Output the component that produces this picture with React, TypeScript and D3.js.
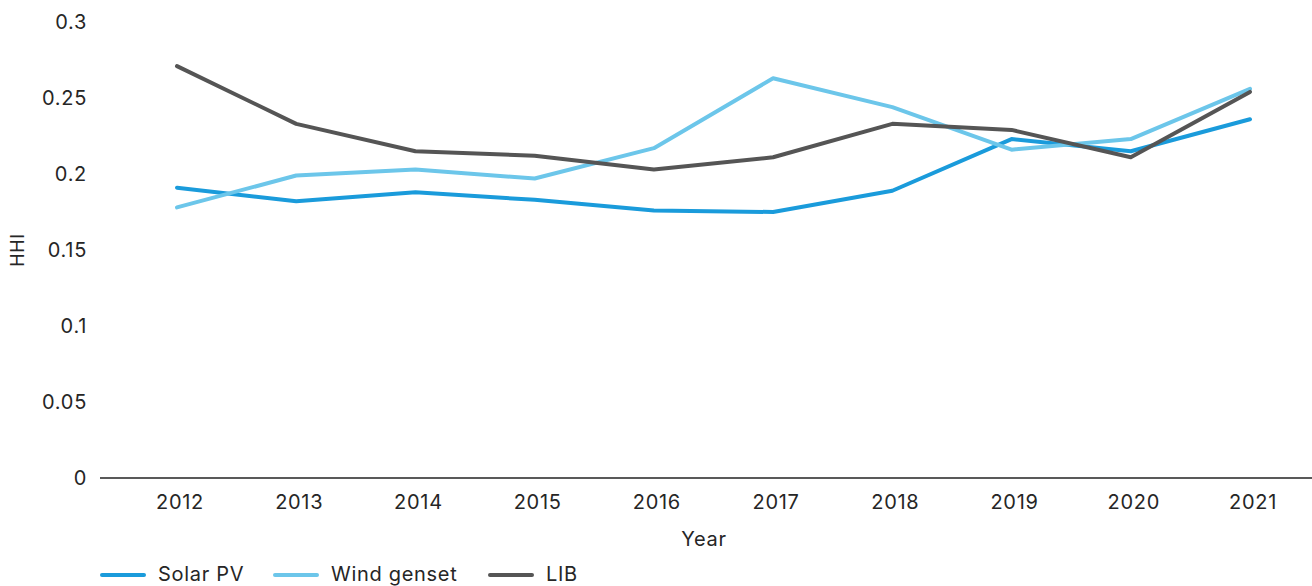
import React from 'react';
import * as d3 from 'd3';

const years = ['2012', '2013', '2014', '2015', '2016', '2017', '2018', '2019', '2020', '2021'];
const solarPV = [0.191, 0.182, 0.188, 0.183, 0.176, 0.175, 0.189, 0.223, 0.215, 0.236];
const windGenset = [0.178, 0.199, 0.203, 0.197, 0.217, 0.263, 0.244, 0.216, 0.223, 0.256];
const lib = [0.271, 0.233, 0.215, 0.212, 0.203, 0.211, 0.233, 0.229, 0.211, 0.254];
const yTicks = [0, 0.05, 0.1, 0.15, 0.2, 0.25, 0.3];

const series = [
  { name: 'Solar PV', values: solarPV, color: '#1a9bdb' },
  { name: 'Wind genset', values: windGenset, color: '#6cc6ea' },
  { name: 'LIB', values: lib, color: '#555555' },
];

const W = 1312;
const H = 586;
const font = 'Inter, "Open Sans", sans-serif';

export default function App() {
  const x = d3.scalePoint<string>().domain(years).range([177, 1250]);
  const y = d3.scaleLinear().domain([0, 0.3]).range([478, 22]);
  const line = d3.line<number>()
    .x((_, i) => x(years[i]) as number)
    .y(d => y(d));

  const legendX = [100, 273, 488];

  return (
    <svg width={W} height={H} style={{ position: 'absolute', left: 0, top: 0 }}
      fontFamily={font} letterSpacing="0.7px">
      <rect width={W} height={H} fill="#fff" />
      {yTicks.map(t => (
        <text key={t} x={87} y={y(t)} dy="0.35em" textAnchor="end" fontSize={20} fill="#262626">
          {String(t)}
        </text>
      ))}
      <line x1={100} x2={1312} y1={y(0)} y2={y(0)} stroke="#222" strokeWidth={1.5} />
      {years.map(yr => (
        <text key={yr} x={(x(yr) as number) + 3} y={502} dy="0.35em" textAnchor="middle" fontSize={20} fill="#262626">
          {yr}
        </text>
      ))}
      <text x={704} y={539} dy="0.35em" textAnchor="middle" fontSize={20} fill="#262626">Year</text>
      <text transform={`translate(18,250) rotate(-90)`} dy="0.35em" textAnchor="middle" fontSize={18} fill="#262626">HHI</text>
      {series.map(s => (
        <path key={s.name} d={line(s.values) || ''} fill="none" stroke={s.color} strokeWidth={4}
          strokeLinejoin="round" strokeLinecap="round" />
      ))}
      {series.map((s, i) => (
        <g key={s.name} transform={`translate(${legendX[i]},575)`}>
          <line x1={2} x2={44} stroke={s.color} strokeWidth={4} strokeLinecap="round" />
          <text x={58} dy="0.32em" fontSize={20} fill="#262626">{s.name}</text>
        </g>
      ))}
    </svg>
  );
}
